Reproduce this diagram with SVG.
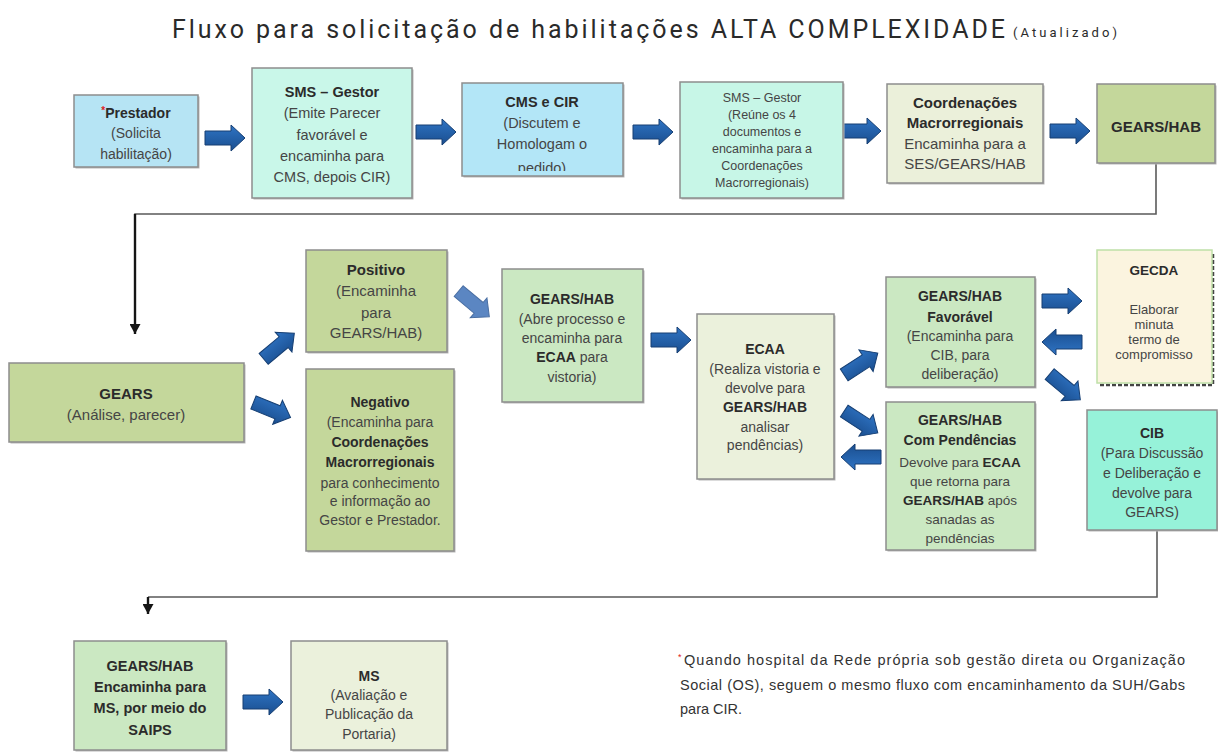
<svg xmlns="http://www.w3.org/2000/svg" xmlns:xlink="http://www.w3.org/1999/xlink" width="1218" height="752" viewBox="0 0 1218 752">
<defs>
<style>
.box{stroke:#8d8d8d;stroke-width:1.5}
.sh{fill:#b8b8b8}
.t{font-family:"Liberation Sans",Arial,sans-serif;fill:#454545;text-anchor:middle}
.b{font-weight:bold;fill:#2b2b2b}
.line{fill:none;stroke:#5a5a5a;stroke-width:1.6}
.line2{fill:none;stroke:#151515;stroke-width:2.4}
.arr{fill:url(#ag);stroke:#163f73;stroke-width:1}
.arrl{fill:#5b86c2;stroke:#4a6fa3;stroke-width:1}
</style>
<linearGradient id="ag" x1="0" y1="0" x2="0" y2="1">
<stop offset="0" stop-color="#2f74c4"/>
<stop offset="1" stop-color="#1a4e8f"/>
</linearGradient>
<path id="ba" d="M-20,-7 H6 V-13 L20,0 L6,13 V7 H-20 Z"/>
<marker id="tip" markerUnits="userSpaceOnUse" markerWidth="11" markerHeight="11" refX="10" refY="5.5" orient="auto" viewBox="0 0 11 11">
<path d="M0,0 L10,5.5 L0,11 Z" fill="#151515"/>
</marker>
<clipPath id="cmsclip"><rect x="462" y="83" width="161" height="88"/></clipPath>
</defs>
<rect width="1218" height="752" fill="#ffffff"/>

<g id="title">
<text x="172" y="38" font-family="Roboto,'Liberation Sans',sans-serif" font-size="25" fill="#2a2a2a" textLength="833" lengthAdjust="spacing">Fluxo para solicitação de habilitações ALTA COMPLEXIDADE</text>
<text x="1013" y="37" font-family="Roboto,'Liberation Sans',sans-serif" font-size="13" fill="#2a2a2a" textLength="104" lengthAdjust="spacing">(Atualizado)</text>
</g>

<g id="connectors">
<path class="line" d="M1156,163 V214 H135 V222"/>
<path class="line2" d="M135,214 V334" marker-end="url(#tip)"/>
<path class="line" d="M1157,530 V597 H148"/>
<path class="line2" d="M148,597 V614" marker-end="url(#tip)"/>
<use href="#ba" class="arr" transform="translate(225,138)"/>
<use href="#ba" class="arr" transform="translate(436,132)"/>
<use href="#ba" class="arr" transform="translate(653,132)"/>
<use href="#ba" class="arr" transform="translate(861,131)"/>
<use href="#ba" class="arr" transform="translate(1070,131)"/>
<use href="#ba" class="arr" transform="translate(279,346) rotate(-40)"/>
<use href="#ba" class="arr" transform="translate(272,410) rotate(22)"/>
<use href="#ba" class="arrl" transform="translate(474,304) rotate(40)"/>
<use href="#ba" class="arr" transform="translate(671,340)"/>
<use href="#ba" class="arr" transform="translate(861,364) rotate(-33)"/>
<use href="#ba" class="arr" transform="translate(861,422) rotate(33)"/>
<use href="#ba" class="arr" transform="translate(861,457) rotate(180)"/>
<use href="#ba" class="arr" transform="translate(1062,301)"/>
<use href="#ba" class="arr" transform="translate(1062,342) rotate(180)"/>
<use href="#ba" class="arr" transform="translate(1065,387) rotate(40)"/>
<use href="#ba" class="arr" transform="translate(263,702)"/>
</g>

<g id="n-prestador">
<rect class="sh" x="75.5" y="96.5" width="124" height="72"/>
<rect class="box" x="74" y="95" width="124" height="72" fill="#b6e4f4"/>
<text class="t b" x="136" y="118" font-size="14"><tspan fill="#e02020" font-size="10" dy="-4">*</tspan><tspan dy="4">Prestador</tspan></text>
<text class="t" x="136" y="138" font-size="14">(Solicita</text>
<text class="t" x="136" y="159" font-size="14">habilitação)</text>
</g>

<g id="n-sms1">
<rect class="sh" x="253.5" y="69.5" width="160" height="130"/>
<rect class="box" x="252" y="68" width="160" height="130" fill="#c9f7e9"/>
<text class="t b" x="332" y="97" font-size="14.5">SMS – Gestor</text>
<text class="t" x="332" y="118" font-size="14.5">(Emite Parecer</text>
<text class="t" x="332" y="140" font-size="14.5">favorável e</text>
<text class="t" x="332" y="161" font-size="14.5">encaminha para</text>
<text class="t" x="332" y="182" font-size="14.5">CMS, depois CIR)</text>
</g>

<g id="n-cms">
<rect class="sh" x="463.5" y="84.5" width="161" height="93"/>
<rect class="box" x="462" y="83" width="161" height="93" fill="#b3e6f7"/>
<g clip-path="url(#cmsclip)">
<text class="t b" x="542" y="107" font-size="14.5">CMS e CIR</text>
<text class="t" x="542" y="128" font-size="14.5">(Discutem e</text>
<text class="t" x="542" y="149" font-size="14.5">Homologam o</text>
<text class="t" x="542" y="173" font-size="14.5">pedido)</text>
</g>
</g>

<g id="n-sms2">
<rect class="sh" x="681.5" y="83.5" width="163" height="116"/>
<rect class="box" x="680" y="82" width="163" height="116" fill="#c7f6e7"/>
<text class="t" x="762" y="102" font-size="12.5" fill="#333">SMS – Gestor</text>
<text class="t" x="762" y="119" font-size="12.5">(Reúne os 4</text>
<text class="t" x="762" y="136" font-size="12.5">documentos e</text>
<text class="t" x="762" y="153" font-size="12.5">encaminha para a</text>
<text class="t" x="762" y="170" font-size="12.5">Coordenações</text>
<text class="t" x="762" y="187" font-size="12.5">Macrorregionais)</text>
</g>

<g id="n-coord">
<rect class="sh" x="888.5" y="85.5" width="156" height="99"/>
<rect class="box" x="887" y="84" width="156" height="99" fill="#ebf0da"/>
<text class="t b" x="965" y="108" font-size="15">Coordenações</text>
<text class="t b" x="965" y="128" font-size="15">Macrorregionais</text>
<text class="t" x="965" y="149" font-size="15">Encaminha para a</text>
<text class="t" x="965" y="169" font-size="15">SES/GEARS/HAB</text>
</g>

<g id="n-gearshab-top">
<rect class="sh" x="1098.5" y="85.5" width="118" height="79"/>
<rect class="box" x="1097" y="84" width="118" height="79" fill="#c4d79b"/>
<text class="t b" x="1156" y="132" font-size="15">GEARS/HAB</text>
</g>

<g id="n-gears">
<rect class="sh" x="10.5" y="364.5" width="235" height="79"/>
<rect class="box" x="9" y="363" width="235" height="79" fill="#c4d79b"/>
<text class="t b" x="126" y="399" font-size="15">GEARS</text>
<text class="t" x="126" y="420" font-size="15">(Análise, parecer)</text>
</g>

<g id="n-positivo">
<rect class="sh" x="307.5" y="251.5" width="141" height="102"/>
<rect class="box" x="306" y="250" width="141" height="102" fill="#c4d79b"/>
<text class="t b" x="376" y="275" font-size="15">Positivo</text>
<text class="t" x="376" y="296" font-size="15">(Encaminha</text>
<text class="t" x="376" y="318" font-size="15">para</text>
<text class="t" x="376" y="338" font-size="15">GEARS/HAB)</text>
</g>

<g id="n-negativo">
<rect class="sh" x="307.5" y="370.5" width="148" height="182"/>
<rect class="box" x="306" y="369" width="148" height="182" fill="#c4d79b"/>
<text class="t b" x="380" y="407" font-size="14">Negativo</text>
<text class="t" x="380" y="427" font-size="14">(Encaminha para</text>
<text class="t b" x="380" y="447" font-size="14">Coordenações</text>
<text class="t b" x="380" y="467" font-size="14">Macrorregionais</text>
<text class="t" x="380" y="488" font-size="14">para conhecimento</text>
<text class="t" x="380" y="506" font-size="14">e informação ao</text>
<text class="t" x="380" y="525" font-size="14">Gestor e Prestador.</text>
</g>

<g id="n-gearshab-abre">
<rect class="sh" x="503.5" y="270.5" width="141" height="133"/>
<rect class="box" x="502" y="269" width="141" height="133" fill="#cbe8c2"/>
<text class="t b" x="572" y="304" font-size="14">GEARS/HAB</text>
<text class="t" x="572" y="324" font-size="14">(Abre processo e</text>
<text class="t" x="572" y="343" font-size="14">encaminha para</text>
<text class="t" x="572" y="362" font-size="14"><tspan class="b">ECAA</tspan> para</text>
<text class="t" x="572" y="382" font-size="14">vistoria)</text>
</g>

<g id="n-ecaa">
<rect class="sh" x="698.5" y="315.5" width="137" height="165"/>
<rect class="box" x="697" y="314" width="137" height="165" fill="#ebf1dc"/>
<text class="t b" x="765" y="354" font-size="14">ECAA</text>
<text class="t" x="765" y="374" font-size="14">(Realiza vistoria e</text>
<text class="t" x="765" y="393" font-size="14">devolve para</text>
<text class="t b" x="765" y="412" font-size="14">GEARS/HAB</text>
<text class="t" x="765" y="432" font-size="14">analisar</text>
<text class="t" x="765" y="450" font-size="14">pendências)</text>
</g>

<g id="n-favoravel">
<rect class="sh" x="887.5" y="278.5" width="149" height="110"/>
<rect class="box" x="886" y="277" width="149" height="110" fill="#cbe8c2"/>
<text class="t b" x="960" y="301" font-size="14">GEARS/HAB</text>
<text class="t b" x="960" y="322" font-size="14">Favorável</text>
<text class="t" x="960" y="341" font-size="14">(Encaminha para</text>
<text class="t" x="960" y="360" font-size="14">CIB, para</text>
<text class="t" x="960" y="379" font-size="14">deliberação)</text>
</g>

<g id="n-pendencias">
<rect class="sh" x="887.5" y="403.5" width="149" height="148"/>
<rect class="box" x="886" y="402" width="149" height="148" fill="#cbe8c2"/>
<text class="t b" x="960" y="425" font-size="14">GEARS/HAB</text>
<text class="t b" x="960" y="445" font-size="14">Com Pendências</text>
<text class="t" x="960" y="467" font-size="13.5">Devolve para <tspan class="b">ECAA</tspan></text>
<text class="t" x="960" y="486" font-size="13.5">que retorna para</text>
<text class="t" x="960" y="505" font-size="13.5"><tspan class="b">GEARS/HAB</tspan> após</text>
<text class="t" x="960" y="524" font-size="13.5">sanadas as</text>
<text class="t" x="960" y="543" font-size="13.5">pendências</text>
</g>

<g id="n-gecda">
<path d="M1100,385 H1213 V253" fill="none" stroke="#444" stroke-width="2.5" stroke-dasharray="4 2"/>
<rect x="1097" y="250" width="115" height="133" fill="#fbf4df" stroke="#bfe0a8" stroke-width="1.5"/>
<text class="t b" x="1154" y="275" font-size="13.5" fill="#222">GECDA</text>
<text class="t" x="1154" y="314" font-size="13" fill="#222">Elaborar</text>
<text class="t" x="1154" y="329" font-size="13" fill="#222">minuta</text>
<text class="t" x="1154" y="344" font-size="13" fill="#222">termo de</text>
<text class="t" x="1154" y="359" font-size="13" fill="#222">compromisso</text>
</g>

<g id="n-cib">
<rect class="sh" x="1088.5" y="411.5" width="130" height="120"/>
<rect class="box" x="1087" y="410" width="130" height="120" fill="#96f2d9"/>
<text class="t b" x="1152" y="438" font-size="14">CIB</text>
<text class="t" x="1152" y="458" font-size="14">(Para Discussão</text>
<text class="t" x="1152" y="478" font-size="14">e Deliberação e</text>
<text class="t" x="1152" y="498" font-size="14">devolve para</text>
<text class="t" x="1152" y="517" font-size="14">GEARS)</text>
</g>

<g id="n-gearshab-ms">
<rect class="sh" x="75.5" y="642.5" width="152" height="109"/>
<rect class="box" x="74" y="641" width="152" height="109" fill="#cbe8c2"/>
<text class="t b" x="150" y="671" font-size="14.5">GEARS/HAB</text>
<text class="t b" x="150" y="692" font-size="14.5">Encaminha para</text>
<text class="t b" x="150" y="713" font-size="14.5">MS, por meio do</text>
<text class="t b" x="150" y="735" font-size="14.5">SAIPS</text>
</g>

<g id="n-ms">
<rect class="sh" x="292.5" y="642.5" width="156" height="109"/>
<rect class="box" x="291" y="641" width="156" height="109" fill="#ebf1dc"/>
<text class="t b" x="369" y="681" font-size="14">MS</text>
<text class="t" x="369" y="700" font-size="14">(Avaliação e</text>
<text class="t" x="369" y="719" font-size="14">Publicação da</text>
<text class="t" x="369" y="739" font-size="14">Portaria)</text>
</g>

<g id="footnote" font-family="'Liberation Sans',Arial,sans-serif" font-size="14.5" fill="#333">
<text x="678" y="660" font-size="9" fill="#e02020">*</text>
<text x="684" y="665" textLength="501" lengthAdjust="spacing">Quando hospital da Rede própria sob gestão direta ou Organização</text>
<text x="680" y="690" textLength="505" lengthAdjust="spacing">Social (OS), seguem o mesmo fluxo com encaminhamento da SUH/Gabs</text>
<text x="680" y="714">para CIR.</text>
</g>
</svg>
